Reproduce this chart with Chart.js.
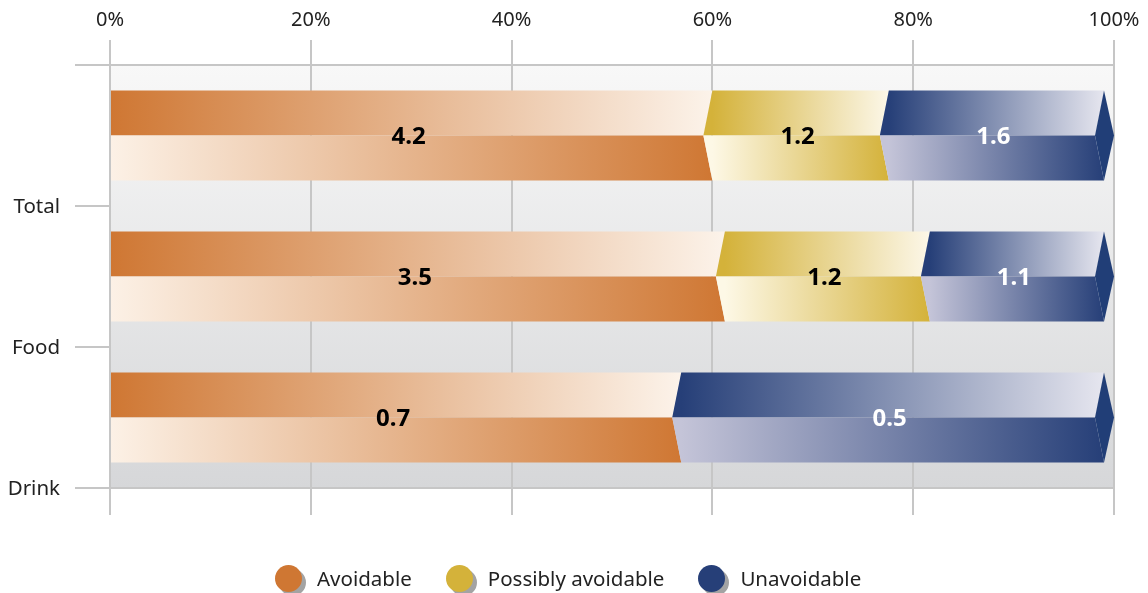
<!DOCTYPE html>
<html>
<head>
<meta charset="UTF-8">
<title>Waste by type</title>
<script src="https://cdn.jsdelivr.net/npm/chart.js@4.4.1/dist/chart.umd.min.js"></script>
<style>
  body { margin: 0; background: #fff; font-family: "Noto Sans", sans-serif; }
  #wrap { position: relative; width: 1148px; height: 593px; }
  #legend { position: absolute; left: 275px; top: 564px; height: 28px;
            display: flex; align-items: center; }
  .item { display: flex; align-items: center; margin-right: 34px; font-size: 20.5px; color: #222; }
  .dot { width: 27px; height: 27px; border-radius: 50%; margin-right: 15px; box-shadow: 4px 4px 0 #a3a3a3; }
</style>
</head>
<body>
<div id="wrap">
  <canvas id="chart" width="1148" height="593"></canvas>
  <div id="legend"></div>
</div>
<script>
// values (the printed labels are rounded)
var categories = ['Total', 'Food', 'Drink'];
var seriesNames = ['Avoidable', 'Possibly avoidable', 'Unavoidable'];
var avoidable = [4.2, 3.54, 0.66];
var possiblyAvoidable = [1.23, 1.18, 0];
var unavoidable = [1.57, 1.06, 0.5];
var tickLabels = ['0%', '20%', '40%', '60%', '80%', '100%'];

var darkColors = ['#cf7733', '#d4b23a', '#263f78'];
var lightTop = ['#fcf3ea', '#fcf7e8', '#e6e6ef'];
var lightBottom = ['#fcf1e6', '#fdf8e6', '#c4c4d8'];
var labelColors = ['#000', '#000', '#fff'];
var capColor = '#213e77';

var series = [avoidable, possiblyAvoidable, unavoidable];
var totals = categories.map(function (c, i) {
  return avoidable[i] + possiblyAvoidable[i] + unavoidable[i];
});

var datasets = series.map(function (vals, si) {
  return {
    label: seriesNames[si],
    data: vals.map(function (v, i) { return v / totals[i] * 100; }),
    raw: vals,
    backgroundColor: 'transparent',
    borderWidth: 0,
    barPercentage: 0.64,
    categoryPercentage: 1,
    xAxisID: 'x'
  };
});

var bgPlugin = {
  id: 'bg',
  beforeDraw: function (chart) {
    var a = chart.chartArea, ctx = chart.ctx;
    var g = ctx.createLinearGradient(0, a.top, 0, a.bottom);
    g.addColorStop(0, '#f8f8f8');
    g.addColorStop(1, '#d6d7d9');
    ctx.save();
    ctx.fillStyle = g;
    ctx.fillRect(a.left, a.top, a.right - a.left, a.bottom - a.top);
    ctx.restore();
  }
};

// twisted ribbon look: top half fades right, bottom half fades left
var ribbonPlugin = {
  id: 'ribbon',
  afterDatasetsDraw: function (chart) {
    var ctx = chart.ctx;
    var skew = 9, capW = 10;
    var dss = chart.data.datasets;
    ctx.save();
    dss.forEach(function (ds, di) {
      var meta = chart.getDatasetMeta(di);
      meta.data.forEach(function (bar, j) {
        if (!ds.raw[j]) return;
        var before = 0, after = 0;
        dss.forEach(function (o, k) {
          if (k < di) before += o.raw[j];
          if (k > di) after += o.raw[j];
        });
        var p = bar.getProps(['x', 'y', 'base', 'height'], true);
        var left = Math.min(p.x, p.base), right = Math.max(p.x, p.base);
        var top = p.y - p.height / 2, mid = p.y, bot = p.y + p.height / 2;
        var lt = left, lm = before === 0 ? left : left - skew;
        var isEnd = after === 0;
        var rt = isEnd ? right - capW : right;
        var rm = rt - skew;

        var g1 = ctx.createLinearGradient(lt, 0, rt, 0);
        g1.addColorStop(0, darkColors[di]);
        g1.addColorStop(1, lightTop[di]);
        ctx.fillStyle = g1;
        ctx.beginPath();
        ctx.moveTo(lt, top); ctx.lineTo(rt, top); ctx.lineTo(rm, mid); ctx.lineTo(lm, mid);
        ctx.closePath(); ctx.fill();

        var g2 = ctx.createLinearGradient(lt, 0, rt, 0);
        g2.addColorStop(0, lightBottom[di]);
        g2.addColorStop(1, darkColors[di]);
        ctx.fillStyle = g2;
        ctx.beginPath();
        ctx.moveTo(lm, mid); ctx.lineTo(rm, mid); ctx.lineTo(rt, bot); ctx.lineTo(lt, bot);
        ctx.closePath(); ctx.fill();

        if (isEnd) {
          ctx.fillStyle = capColor;
          ctx.beginPath();
          ctx.moveTo(rt, top); ctx.lineTo(right, mid); ctx.lineTo(rt, bot); ctx.lineTo(rm, mid);
          ctx.closePath(); ctx.fill();
        }

        ctx.fillStyle = labelColors[di];
        ctx.font = 'bold 24px "Noto Sans", sans-serif';
        ctx.textAlign = 'center';
        ctx.textBaseline = 'middle';
        ctx.fillText(ds.raw[j].toFixed(1), (lt + rt) / 2 - 3, mid + 2);
      });
    });
    ctx.restore();
  }
};

var gridColor = '#c6c6c6';

var chart = new Chart(document.getElementById('chart').getContext('2d'), {
  type: 'bar',
  data: { labels: categories, datasets: datasets },
  options: {
    indexAxis: 'y',
    responsive: false,
    animation: false,
    layout: { padding: { left: 0, right: 34, top: 0, bottom: 0 } },
    plugins: { legend: { display: false }, tooltip: { enabled: false } },
    scales: {
      x: {
        type: 'linear', position: 'top', stacked: true, min: 0, max: 100,
        ticks: { stepSize: 20, padding: 8, color: '#222', font: { family: 'Noto Sans', size: 20 },
                 callback: function (v, i) { return tickLabels[i]; } },
        grid: { color: gridColor, lineWidth: 2, tickLength: 25 },
        border: { color: gridColor, width: 2 },
        afterFit: function (s) { s.height = 65; }
      },
      x2: {
        type: 'linear', axis: 'x', position: 'bottom', min: 0, max: 100,
        ticks: { stepSize: 20, display: false },
        grid: { color: gridColor, lineWidth: 2, tickLength: 27, drawOnChartArea: false },
        border: { color: gridColor, width: 2 },
        afterFit: function (s) { s.height = 105; }
      },
      y: {
        type: 'category', stacked: true, offset: true,
        ticks: { labelOffset: 72, padding: 15, color: '#222', font: { family: 'Noto Sans', size: 20.5 } },
        grid: { offset: true, drawOnChartArea: false, color: gridColor, lineWidth: 2, tickLength: 35 },
        border: { color: gridColor, width: 2 },
        afterFit: function (s) { s.width = 110; }
      }
    }
  },
  plugins: [bgPlugin, ribbonPlugin]
});

// html legend built from the chart's datasets
var legendEl = document.getElementById('legend');
chart.data.datasets.forEach(function (ds, i) {
  var item = document.createElement('div');
  item.className = 'item';
  var dot = document.createElement('span');
  dot.className = 'dot';
  dot.style.background = darkColors[i];
  item.appendChild(dot);
  item.appendChild(document.createTextNode(ds.label));
  legendEl.appendChild(item);
});
</script>
</body>
</html>
